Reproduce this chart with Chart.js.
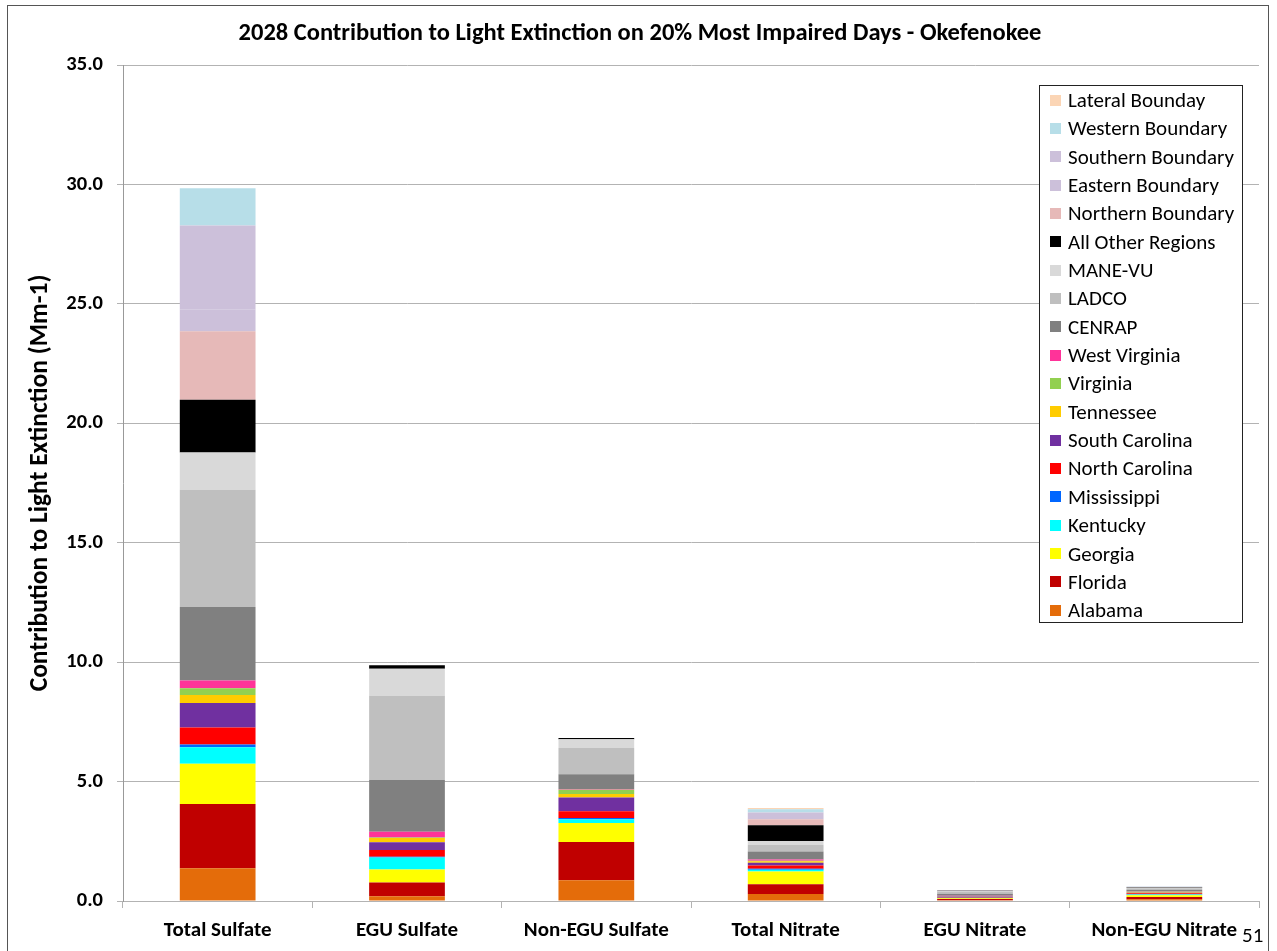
<!DOCTYPE html>
<html>
<head>
<meta charset="utf-8">
<script src="https://cdn.jsdelivr.net/npm/chart.js@4.4.1/dist/chart.umd.min.js"></script>
<style>
  html, body { margin: 0; padding: 0; background: #fff; }
  #wrap { position: relative; width: 1277px; height: 951px; overflow: hidden; }
  #frame { position: absolute; left: 7px; top: 5px; width: 1262px; height: 960px; border: 1px solid #555; box-sizing: border-box; pointer-events: none; }
  #title { position: absolute; left: 0; width: 1280px; top: 17px; text-align: center; font: bold 24.5px Carlito, Lato, sans-serif; color: #000; }
  #legend { position: absolute; left: 1039px; top: 85px; width: 204px; height: 538px; border: 1px solid #222; box-sizing: border-box; background: #fff; }
  .item { position: relative; height: 28.35px; font: 21px Carlito, Lato, sans-serif; color: #000; line-height: 28.35px; padding-left: 28px; white-space: nowrap; }
  .item .sw { position: absolute; left: 10px; top: 8.5px; width: 11px; height: 11px; }
  #page { position: absolute; left: 1242px; top: 922px; font: 21px Carlito, Lato, sans-serif; color: #000; }
  canvas { position: absolute; left: 0; top: 0; }
</style>
</head>
<body>
<div id="wrap">
  <canvas id="chart" width="1277" height="951"></canvas>
  <div id="title"></div>
  <div id="legend"></div>
  <div id="page">51</div>
  <div id="frame"></div>
</div>
<script>
// Categories along the x axis
const categories = ["Total Sulfate", "EGU Sulfate", "Non-EGU Sulfate", "Total Nitrate", "EGU Nitrate", "Non-EGU Nitrate"];

// Contribution to light extinction (Mm-1) by source region, one value per category
const alabama       = [1.37, 0.20, 0.87, 0.29, 0.03, 0.07];
const florida       = [2.69, 0.57, 1.60, 0.41, 0.05, 0.10];
const georgia       = [1.69, 0.55, 0.80, 0.54, 0.04, 0.07];
const kentucky      = [0.69, 0.50, 0.15, 0.07, 0.01, 0.03];
const mississippi   = [0.11, 0.03, 0.06, 0.04, 0.01, 0.01];
const northCarolina = [0.71, 0.28, 0.28, 0.14, 0.02, 0.04];
const southCarolina = [1.03, 0.33, 0.57, 0.11, 0.03, 0.03];
const tennessee     = [0.33, 0.18, 0.15, 0.06, 0.01, 0.02];
const virginia      = [0.29, 0.02, 0.18, 0.03, 0.01, 0.02];
const westVirginia  = [0.32, 0.24, 0.02, 0.05, 0.01, 0.01];
const cenrap        = [3.08, 2.17, 0.63, 0.33, 0.08, 0.07];
const ladco         = [4.91, 3.52, 1.10, 0.29, 0.08, 0.06];
const maneVu        = [1.56, 1.13, 0.36, 0.15, 0.03, 0.02];
const allOther      = [2.21, 0.15, 0.05, 0.66, 0.02, 0.03];
const northernBnd   = [2.86, 0.00, 0.00, 0.25, 0.01, 0.01];
const easternBnd    = [0.90, 0.00, 0.00, 0.14, 0.00, 0.00];
const southernBnd   = [3.53, 0.00, 0.00, 0.14, 0.01, 0.01];
const westernBnd    = [1.56, 0.00, 0.00, 0.14, 0.01, 0.01];
const lateralBnd    = [0.00, 0.00, 0.00, 0.05, 0.00, 0.00];

// Y axis tick values
const yTicks = [0, 5, 10, 15, 20, 25, 30, 35];

const chartTitle = "2028 Contribution to Light Extinction on 20% Most Impaired Days - Okefenokee";
const yTitle = "Contribution to Light Extinction (Mm-1)";

// Stack order, bottom to top
const series = [
  { label: "Alabama",          data: alabama,       color: "#E46C0A" },
  { label: "Florida",          data: florida,       color: "#C00000" },
  { label: "Georgia",          data: georgia,       color: "#FFFF00" },
  { label: "Kentucky",         data: kentucky,      color: "#00FFFF" },
  { label: "Mississippi",      data: mississippi,   color: "#0066FF" },
  { label: "North Carolina",   data: northCarolina, color: "#FF0000" },
  { label: "South Carolina",   data: southCarolina, color: "#7030A0" },
  { label: "Tennessee",        data: tennessee,     color: "#FFCC00" },
  { label: "Virginia",         data: virginia,      color: "#92D050" },
  { label: "West Virginia",    data: westVirginia,  color: "#FF3399" },
  { label: "CENRAP",           data: cenrap,        color: "#808080" },
  { label: "LADCO",            data: ladco,         color: "#BFBFBF" },
  { label: "MANE-VU",          data: maneVu,        color: "#D9D9D9" },
  { label: "All Other Regions",data: allOther,      color: "#000000" },
  { label: "Northern Boundary",data: northernBnd,   color: "#E6B9B8" },
  { label: "Eastern Boundary", data: easternBnd,    color: "#CCC0DA" },
  { label: "Southern Boundary",data: southernBnd,   color: "#CCC0DA" },
  { label: "Western Boundary", data: westernBnd,    color: "#B7DEE8" },
  { label: "Lateral Bounday",  data: lateralBnd,    color: "#FBD5B5" }
];

document.getElementById("title").textContent = chartTitle;

// Legend box, listed top to bottom (reverse of stack order)
const legend = document.getElementById("legend");
series.slice().reverse().forEach(s => {
  const it = document.createElement("div");
  it.className = "item";
  const sw = document.createElement("span");
  sw.className = "sw";
  sw.style.background = s.color;
  it.appendChild(sw);
  it.appendChild(document.createTextNode(s.label));
  legend.appendChild(it);
});

const fontFam = "Carlito, Lato, sans-serif";

new Chart(document.getElementById("chart"), {
  type: "bar",
  data: {
    labels: categories,
    datasets: series.map(s => ({
      label: s.label,
      data: s.data,
      backgroundColor: s.color,
      borderWidth: 0,
      barPercentage: 0.4,
      categoryPercentage: 1.0
    }))
  },
  options: {
    responsive: false,
    animation: false,
    layout: { padding: { top: 65, right: 18, left: 0, bottom: 0 } },
    plugins: {
      legend: { display: false },
      title: { display: false },
      tooltip: { enabled: false }
    },
    scales: {
      x: {
        stacked: true,
        offset: true,
        afterFit: (scale) => { scale.height = 50; },
        grid: { drawOnChartArea: false, drawTicks: true, tickLength: 7, color: "#b3b3b3", offset: true },
        border: { display: true, color: "#b3b3b3", width: 1 },
        ticks: { color: "#000", padding: 10, maxRotation: 0, font: { family: fontFam, size: 21, weight: "bold" } }
      },
      y: {
        stacked: true,
        min: yTicks[0],
        max: yTicks[yTicks.length - 1],
        afterFit: (scale) => { scale.width = 123; },
        afterBuildTicks: (scale) => { scale.ticks = yTicks.map(v => ({ value: v })); },
        grid: { color: "#b3b3b3", tickLength: 6, lineWidth: 1 },
        border: { display: true, color: "#999", width: 1 },
        ticks: {
          color: "#000",
          padding: 14,
          font: { family: fontFam, size: 20.5, weight: "bold" },
          callback: (v) => Number(v).toFixed(1)
        },
        title: {
          display: true,
          text: yTitle,
          color: "#000",
          padding: { top: 25, bottom: 0 },
          font: { family: fontFam, size: 25.5, weight: "bold" }
        }
      }
    }
  }
});
</script>
</body>
</html>
